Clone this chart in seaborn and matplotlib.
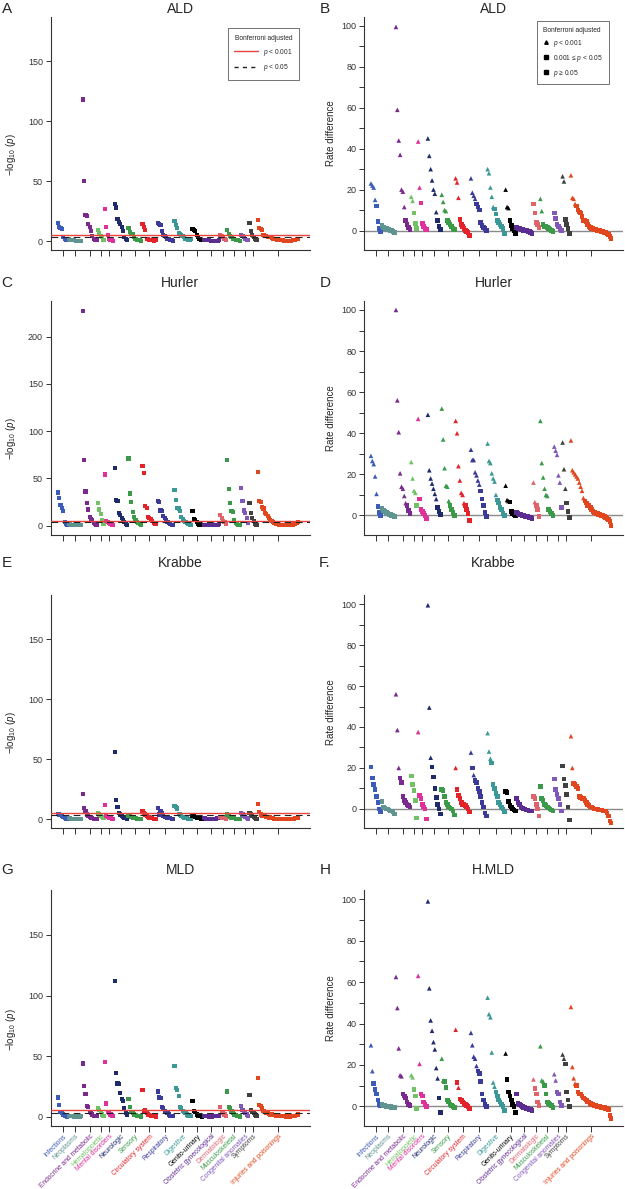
import matplotlib
matplotlib.use("Agg")
import matplotlib.pyplot as plt
from matplotlib.lines import Line2D
from matplotlib.ticker import MultipleLocator
import numpy as np
import pandas as pd
import seaborn as sns

# phenotype categories in plotting order
CATEGORIES = ["Infections", "Neoplasms", "Endocrine and metabolic", "Hematopoietic",
              "Mental disorders", "Neurologic", "Sensory", "Circulatory system",
              "Respiratory", "Digestive", "Genito-urinary", "Obstetric gynecological",
              "Dermatologic", "Musculoskeletal", "Congenital anomalies", "Symptoms",
              "Injuries and poisonings"]
COLORS = ["#3b5cb8", "#5f9490", "#7a2a8c", "#72c165", "#e0309a", "#1f2a6b", "#3a9a48",
          "#e2232a", "#3b3a98", "#3a9896", "#000000", "#5c2d91", "#e0626a", "#3a9a4a",
          "#8058b8", "#404040", "#e2461e"]

RED_LINE = 5.3    # Bonferroni p < 0.001
DASH_LINE = 3.6   # Bonferroni p < 0.05

# rate difference / -log10(p) per phenotype, in x order, one list per category
ALD_RATE = [
    [23, 22, 21, 15, 12, 4.5, 1, -0.5],
    [2.5, 1.5, 1, 1, 0.5, 0.5, 0, 0, -0.5, -1],
    [99.5, 59, 44, 37, 20, 19, 11.5, 5, 3, 1.5, 0.5],
    [16.5, 14.5, 8.5, 3.5, 1],
    [43.5, 21, 13.5, 3.5, 2, 1, 0.5],
    [45, 36.5, 30, 24.5, 20, 18, 9, 5, 2, 0.5],
    [17.5, 14, 10, 9.5, 5, 4, 3, 2, 1, 0.5],
    [25.5, 23.5, 16, 5.5, 3, 2, 1, 0, -0.5, -1, -2.5],
    [25.5, 18.5, 17, 15.5, 13, 11.5, 10, 4, 2.5, 1.5, 1, 0],
    [30, 28, 21, 16.5, 11.5, 10.5, 8, 5, 4, 3, 2, 1, -1.5],
    [20, 11.5, 11, 5, 2.5, 1, 0, -1.5],
    [1.5, 1, 1, 0.5, 0.5, 0, 0, 0, -0.5, -0.5, -1, -1.5],
    [13, 8.5, 4, 3, 1.5],
    [15.5, 9.5, 3, 2, 2, 1.5, 1, 0.5, 0, -0.5],
    [8.5, 6, 3, 2, 1, 0],
    [26.5, 24, 5.5, 3, 1, -1.5],
    [27, 16, 15.5, 13, 12, 10, 9, 8.5, 7, 5, 5, 4.5, 3, 2, 1.5, 1, 1, 0.5, 0.5, 0,
     0, 0, -0.5, -0.5, -1, -1, -1.5, -2, -3, -4],
]
ALD_LOGP = [
    [15, 12, 11, 10, 3, 2, 1, 0.5],
    [1.5, 1, 1, 0.5, 0.5, 0.3, 0.3, 0.2, 0.2, 0.3],
    [118, 50, 22, 21, 14, 12, 8, 4, 2, 1, 0.5],
    [9.5, 7, 4, 3, 1],
    [27, 12, 5, 2, 1, 0.5, 0.3],
    [31, 28, 18, 16, 14, 12, 8, 3, 1.5, 0.5],
    [11, 7.5, 6, 5.5, 3, 2, 1, 1, 0.5, 0.3],
    [14, 12, 9, 2, 1.5, 1, 0.5, 0.5, 0.3, 0.5, 1],
    [15, 14, 13, 8, 5, 4, 3, 2, 1.5, 1, 0.5, 0.3],
    [17, 13, 11, 7, 6, 5, 4, 3, 2, 1.5, 1, 0.5, 1.5],
    [10, 9, 8, 5, 3, 2, 1, 1],
    [1, 1, 0.8, 0.5, 0.5, 0.3, 0.3, 0.2, 0.2, 0.1, 0.3, 0.5],
    [5, 4.5, 3, 2, 1],
    [9.5, 6, 4, 3, 2, 1.5, 1, 0.5, 0.5, 0.3],
    [5, 4, 3, 2, 1, 0.5],
    [15, 8, 5, 3, 1.5, 1],
    [17.5, 11, 10, 9, 5, 4.5, 4, 3.5, 3, 3, 2.5, 2, 1.5, 1.5, 1, 1, 0.5, 0.5, 0.5, 0.3,
     0.3, 0.3, 0.2, 0.2, 0.3, 0.5, 0.5, 1, 1.5, 2],
]

HURLER_RATE = [
    [29, 26.5, 25, 19, 10.5, 4.5, 1.5, 0],
    [3.5, 2.5, 2, 1.5, 1, 0.5, 0.5, 0, 0, -0.5],
    [100, 56, 40.5, 20.5, 14, 13, 9.5, 6, 5, 2.5, 1],
    [26, 18, 12, 11, 5],
    [47, 8, 3, 2, 1, 0, -1.5],
    [49, 22, 18, 15.5, 13, 10.5, 8, 4, 2, 0.5],
    [52, 37, 23, 14.5, 14, 7, 5, 3, 1.5, 0],
    [46, 40, 24, 17, 11, 10, 6, 5, 3, 1, -2.5],
    [32, 27, 27, 21, 19.5, 17, 15, 12, 8, 5, 1.5, -0.5],
    [35, 26.5, 25.5, 20.5, 18, 16.5, 10, 7.5, 6, 4, 3, 1, 0],
    [14.5, 7.5, 7, 6.5, 2, 1, 0.5, 0],
    [1.5, 1, 0.5, 0.5, 0, 0, -0.5, -0.5, -0.5, -1, -1, -1.5],
    [16, 6.5, 5, 3, -0.5],
    [46, 25.5, 18.5, 13, 10, 9.5, 3, 2, 1, 0],
    [33.5, 31.5, 29.5, 19.5, 16, 4],
    [35.5, 22.5, 13, 6, 2, -1],
    [36.5, 22, 21, 20, 19, 18, 16, 14, 12, 8.5, 7, 6, 5, 5, 4, 3, 2, 1.5, 1, 1,
     0.5, 0.5, 0, 0, -0.5, -1, -1.5, -2, -3, -5],
]
HURLER_LOGP = [
    [35, 29, 22, 19, 15, 4, 1.5, 0.5],
    [2, 1.5, 1, 1, 0.5, 0.5, 0.3, 0.3, 0.2, 0.2],
    [227, 69, 36, 24, 17, 9, 7, 6, 3, 2, 1],
    [24, 17, 12, 6, 2],
    [54, 5, 4, 3, 2, 1, 1],
    [61, 27, 26, 13, 11, 8, 6, 4, 2, 1],
    [71, 34, 25, 14, 9, 6, 4, 3, 2, 1],
    [63, 56, 21, 19, 9, 8, 7, 5, 3, 2, 1.5],
    [26, 25, 16, 15, 10, 8, 6, 4, 3, 2, 1, 0.5],
    [38, 27, 19, 18, 15, 9, 7, 5, 4, 3, 2, 1, 0.5],
    [15.5, 7, 6, 4, 2, 1, 1, 0.5],
    [1, 0.8, 0.5, 0.5, 0.3, 0.3, 0.3, 0.5, 0.5, 0.8, 1, 1.5],
    [11, 8, 5, 4, 2],
    [69, 39, 24, 15, 14, 6, 3, 2, 1, 0.5],
    [39.5, 26, 16, 13, 8, 3],
    [24, 13, 8, 5, 2, 1],
    [57, 26, 25, 20, 18, 13, 12, 10, 8, 6, 5, 4, 3, 2, 2, 1, 1, 1, 0.5, 0.5,
     0.5, 0.3, 0.3, 0.5, 0.5, 1, 1.5, 2, 3, 4],
]

KRABBE_RATE = [
    [20.5, 15, 12, 9.5, 6, 3, 0, -1.5],
    [3.5, 1, 0.5, 0, 0, -0.5, -1, -1, -1.5, -2.5],
    [56, 38.5, 20, 15, 13, 6, 4, 3, 2, 1.5, 1],
    [16, 12, 9, 4, -4.5],
    [37.5, 6.5, 5, 2, 1, 0, -5],
    [99.5, 49.5, 25, 20.5, 15.5, 10, 5.5, 2, 0, -2.5],
    [9.5, 9, 6, 3, 2, 1, 0.5, 0, -1, -3],
    [20, 9.5, 6.5, 5, 3, 2, 2, 1.5, 1, 0, -1.5],
    [27.5, 20, 16.5, 14, 13, 10, 8.5, 6, 3, 1, -2, -3.5],
    [37, 28, 24.5, 22.5, 12, 10, 7.5, 6, 3, 2, 1, 0, -1.5],
    [8.5, 8, 3.5, 1.5, 1, 0, -0.5, -1],
    [5, 3, 2, 1, 0.5, 0, 0, -0.5, -0.5, -1, -1, -1],
    [6, 5, 2, 0, -3.5],
    [11, 5, 4, 2, 1.5, 1, 0.5, 0, -0.5, -1],
    [14.5, 9.5, 7, 5, 2, -1],
    [21, 14.5, 11.5, 7, 1, -5.5],
    [35.5, 20, 12.5, 12, 11, 10, 6, 5.5, 5, 5, 4, 3, 2, 1.5, 1, 1, 0.5, 0, 0, 0,
     -0.5, -0.5, -0.5, -1, -1, -1, -2, -3.5, -6, -7],
]
KRABBE_LOGP = [
    [4.5, 4, 3.5, 3, 2, 1, 0.5, 0.5],
    [1, 1, 0.5, 0.5, 0.3, 0.3, 0.2, 0.2, 0.3, 0.5],
    [21, 9.5, 7, 4, 3, 2, 1.5, 1, 0.5, 0.5, 0.3],
    [5, 4, 3, 2, 1],
    [12, 3, 2, 1.5, 1, 0.5, 0.5],
    [56, 16, 10, 5, 4, 3, 2, 1.5, 1, 0.5],
    [3, 2.5, 2, 1.5, 1, 1, 0.5, 0.5, 0.3, 0.3],
    [7, 5, 4, 3, 2, 1.5, 1, 1, 0.5, 0.5, 0.3],
    [9.5, 4, 7, 5, 3, 2, 2, 1.5, 1, 1, 0.5, 0.5],
    [11, 10, 9, 4.5, 4, 3, 2, 1.5, 1, 1, 0.5, 0.5, 0.3],
    [3, 2.5, 2, 1.5, 1, 1, 0.5, 0.5],
    [1, 0.8, 0.5, 0.5, 0.3, 0.3, 0.3, 0.3, 0.5, 0.5, 0.8, 1],
    [2, 1.5, 1, 1, 0.5],
    [4, 3, 2, 1.5, 1, 1, 0.5, 0.5, 0.3, 0.3],
    [5, 4, 3, 2, 1, 0.5],
    [5, 4, 3, 2, 1, 0.5],
    [13, 6, 4, 3, 3, 2.5, 2, 2, 1.5, 1.5, 1, 1, 0.5, 0.5, 0.5, 0.3, 0.3, 0.3, 0.2, 0.2,
     0.2, 0.2, 0.3, 0.3, 0.5, 0.5, 0.5, 1, 1, 1.5],
]

MLD_RATE = [
    [29.5, 17, 11, 8, 6, 3, 1, 0.5],
    [1, 0.5, 0.5, 0, 0, 0, 0, -0.5, -0.5, -0.5],
    [62.5, 47.5, 28, 15, 14.5, 6, 5, 4, 2, 1, 0.5],
    [15, 14, 8, 5, -1],
    [63, 20.5, 6, 5, 2, 1, 0],
    [99, 57, 41.5, 36.5, 31, 27.5, 18.5, 13.5, 4, -3],
    [23, 12.5, 12, 9, 3, 2, 1, 0.5, 0, -0.5],
    [37, 11.5, 9, 3.5, 3, 2, 1.5, 1, 0.5, 0, -1],
    [35.5, 29.5, 24, 23, 19.5, 17, 16, 12, 6, 3, 1, 0],
    [52.5, 44.5, 43, 26, 11.5, 9.5, 7, 5, 3, 2, 1, 0, -2],
    [25.5, 13, 7, 5, 3, 1, 0, -3],
    [6, 1.5, 1, 0.5, 0, -0.5, -0.5, -1, -1, -1.5, -1.5, -2],
    [13, 8.5, 6, 2, 0.5],
    [29, 12.5, 12, 10, 6, 2, 1.5, 1, 0.5, -0.5],
    [15.5, 12.5, 7, 6, 2, 0.5],
    [25, 23, 20.5, 7, 3, 0],
    [48, 19, 13.5, 11, 10, 7, 6, 6, 5, 4, 3.5, 3, 2, 2, 1.5, 1, 1, 0.5, 0.5, 0,
     0, 0, -0.5, -0.5, -0.5, -1, -1, -1.5, -4.5, -6],
]
MLD_LOGP = [
    [16, 10, 4, 3, 2, 1, 0.5, 0.3],
    [1, 1, 0.5, 0.5, 0.3, 0.3, 0.3, 0.2, 0.3, 0.5],
    [44, 25.5, 19, 9, 8, 4, 3, 2, 1, 1, 0.5],
    [7, 6, 4, 2, 1],
    [45, 11, 4, 3, 2, 1, 0.5],
    [112, 36, 27.5, 27, 20, 15, 13, 7, 3, 2],
    [14.5, 8, 4, 3, 2, 1.5, 1, 1, 0.5, 0.3],
    [22, 5, 6, 3, 2, 1.5, 1, 1, 0.5, 0.5, 0.3],
    [21, 16, 15.5, 8, 7, 5, 4, 3, 2, 1, 1, 0.5],
    [42, 24, 22, 17, 8, 7, 5, 4, 3, 2, 1, 1, 0.5],
    [13, 5, 4, 2, 1, 1, 0.5, 0.3],
    [1, 0.8, 0.5, 0.5, 0.3, 0.3, 0.3, 0.5, 0.5, 0.8, 1, 1],
    [8.5, 4, 3, 2, 1],
    [21, 8, 7, 5, 3, 2, 1.5, 1, 0.5, 0.3],
    [9, 6, 4, 3, 2, 1],
    [18, 6, 4, 3, 2, 1],
    [32, 9.5, 9, 7, 5, 4, 3, 3, 2.5, 2, 2, 1.5, 1.5, 1, 1, 1, 0.5, 0.5, 0.5, 0.5,
     0.3, 0.3, 0.3, 0.3, 0.5, 0.5, 1, 1, 1.5, 2],
]

DISEASES = ["ALD", "Hurler", "Krabbe", "MLD"]
RIGHT_TITLES = ["ALD", "Hurler", "Krabbe", "H.MLD"]
LEFT_LETTERS = ["A", "C", "E", "G"]
RIGHT_LETTERS = ["B", "D", "F.", "H"]


def build_frame(rate, logp):
    rows = []
    pos = 0
    for cat, r_vals, p_vals in zip(CATEGORIES, rate, logp):
        for r, p in zip(r_vals, p_vals):
            rows.append((pos, cat, r, p))
            pos += 1
    df = pd.DataFrame(rows, columns=["pos", "category", "rate", "logp"])
    df["shape"] = np.where(df["logp"] > RED_LINE, "tri", "sq")
    return df


sns.set_style("ticks")
plt.rcParams["font.family"] = ["Liberation Sans", "DejaVu Sans"]
plt.rcParams["mathtext.fontset"] = "custom"
plt.rcParams["mathtext.rm"] = "Liberation Sans"
plt.rcParams["mathtext.it"] = "Liberation Sans:italic"
plt.rcParams["axes.edgecolor"] = "#333333"
plt.rcParams["axes.linewidth"] = 0.8
plt.rcParams["xtick.color"] = "#333333"
plt.rcParams["ytick.color"] = "#333333"

palette = dict(zip(CATEGORIES, COLORS))
RED = "#e8453c"

W, H = 625, 1189
fig = plt.figure(figsize=(W / 100, H / 100), dpi=100)

row_top = [16.7, 300.7, 595, 890]
row_bot = [250, 535, 828.3, 1126]
title_y = [9, 283, 563, 870]
left_x0, left_x1 = 50.7, 310
right_x0, right_x1 = 364, 623

data = [(ALD_RATE, ALD_LOGP), (HURLER_RATE, HURLER_LOGP),
        (KRABBE_RATE, KRABBE_LOGP), (MLD_RATE, MLD_LOGP)]

for i, (rate, logp) in enumerate(data):
    df = build_frame(rate, logp)
    centers = df.groupby("category", sort=False)["pos"].agg(lambda s: (s.min() + s.max()) / 2)
    last_row = i == 3
    b = 1 - row_bot[i] / H
    h = (row_bot[i] - row_top[i]) / H

    # ---- left: -log10(p)
    ax = fig.add_axes([left_x0 / W, b, (left_x1 - left_x0) / W, h])
    sns.scatterplot(data=df, x="pos", y="logp", hue="category", hue_order=CATEGORIES,
                    palette=palette, marker="s", s=9, linewidth=0, legend=False, ax=ax)
    ax.axhline(RED_LINE, color=RED, lw=1.0, zorder=3)
    ax.axhline(DASH_LINE, color="#222222", lw=0.8, ls=(0, (6, 4)), zorder=3)
    if DISEASES[i] == "Hurler":
        ax.set_ylim(-10, 238)
    else:
        ax.set_ylim(-7.5, 187)
    ax.yaxis.set_major_locator(MultipleLocator(50))
    ax.set_ylabel("\u2212log$_{10}$ ($p$)", fontsize=7)
    ax.yaxis.set_label_coords(-0.125, 0.41)
    ax.set_xlabel("")

    # ---- right: rate difference
    ax2 = fig.add_axes([right_x0 / W, b, (right_x1 - right_x0) / W, h])
    ax2.axhline(0, color="#8a8a8a", lw=1, zorder=0)
    sns.scatterplot(data=df, x="pos", y="rate", hue="category", hue_order=CATEGORIES,
                    palette=palette, style="shape", markers={"tri": "^", "sq": "s"},
                    s=11, linewidth=0, legend=False, ax=ax2)
    ax2.set_ylim(-9.5, 104.5)
    ax2.yaxis.set_major_locator(MultipleLocator(20))
    ax2.yaxis.set_minor_locator(MultipleLocator(10))
    ax2.set_ylabel("Rate difference", fontsize=7)
    ax2.yaxis.set_label_coords(-0.11, 0.5)
    ax2.set_xlabel("")

    for a in (ax, ax2):
        sns.despine(ax=a)
        a.set_xlim(-5, 181.5)
        a.set_xticks(centers.values)
        a.tick_params(axis="x", length=4.5, width=0.7, pad=0.5)
        a.tick_params(axis="y", which="both", length=3.5, width=0.7, labelsize=6.5, pad=2)
        if last_row:
            a.set_xticklabels(CATEGORIES, rotation=45, ha="right", va="top",
                              rotation_mode="anchor", fontsize=4.8)
            for lab, col in zip(a.get_xticklabels(), COLORS):
                lab.set_color(col)
        else:
            a.set_xticklabels([])

    # titles and panel letters
    ty = 1 - title_y[i] / H
    fig.text((left_x0 + left_x1) / 2 / W, ty, DISEASES[i], ha="center", va="center", fontsize=10)
    fig.text((right_x0 + right_x1) / 2 / W, ty, RIGHT_TITLES[i], ha="center", va="center", fontsize=10)
    fig.text(7 / W, ty, LEFT_LETTERS[i], ha="center", va="center", fontsize=11)
    fig.text(325 / W, ty, RIGHT_LETTERS[i], ha="center", va="center", fontsize=11)

    if i == 0:
        handles = [Line2D([], [], color=RED, lw=1),
                   Line2D([], [], color="#222222", lw=1, ls=(0, (3, 3)))]
        leg = ax.legend(handles, ["$p$ < 0.001", "$p$ < 0.05"], title="Bonferroni adjusted",
                        loc="upper right", bbox_to_anchor=(0.972, 0.964), fontsize=4.8,
                        title_fontsize=4.8, frameon=True, fancybox=False, edgecolor="#333333",
                        handlelength=3.5, borderpad=1.0, labelspacing=0.7)
        leg.get_frame().set_linewidth(0.6)
        handles2 = [Line2D([], [], color="black", marker="^", ls="", markersize=2.5),
                    Line2D([], [], color="black", marker="s", ls="", markersize=2.2),
                    Line2D([], [], color="black", marker="s", ls="", markersize=2.2)]
        leg2 = ax2.legend(handles2, ["$p$ < 0.001", "0.001 \u2264 $p$ < 0.05", "$p$ \u2265 0.05"],
                          title="Bonferroni adjusted", loc="upper right",
                          bbox_to_anchor=(0.957, 0.994), fontsize=4.8, title_fontsize=4.8,
                          frameon=True, fancybox=False, edgecolor="#333333",
                          handlelength=1, handletextpad=0.6, borderpad=0.8,
                          labelspacing=0.6, alignment="left")
        leg2.get_frame().set_linewidth(0.6)

fig.savefig("out.png", dpi=100)
